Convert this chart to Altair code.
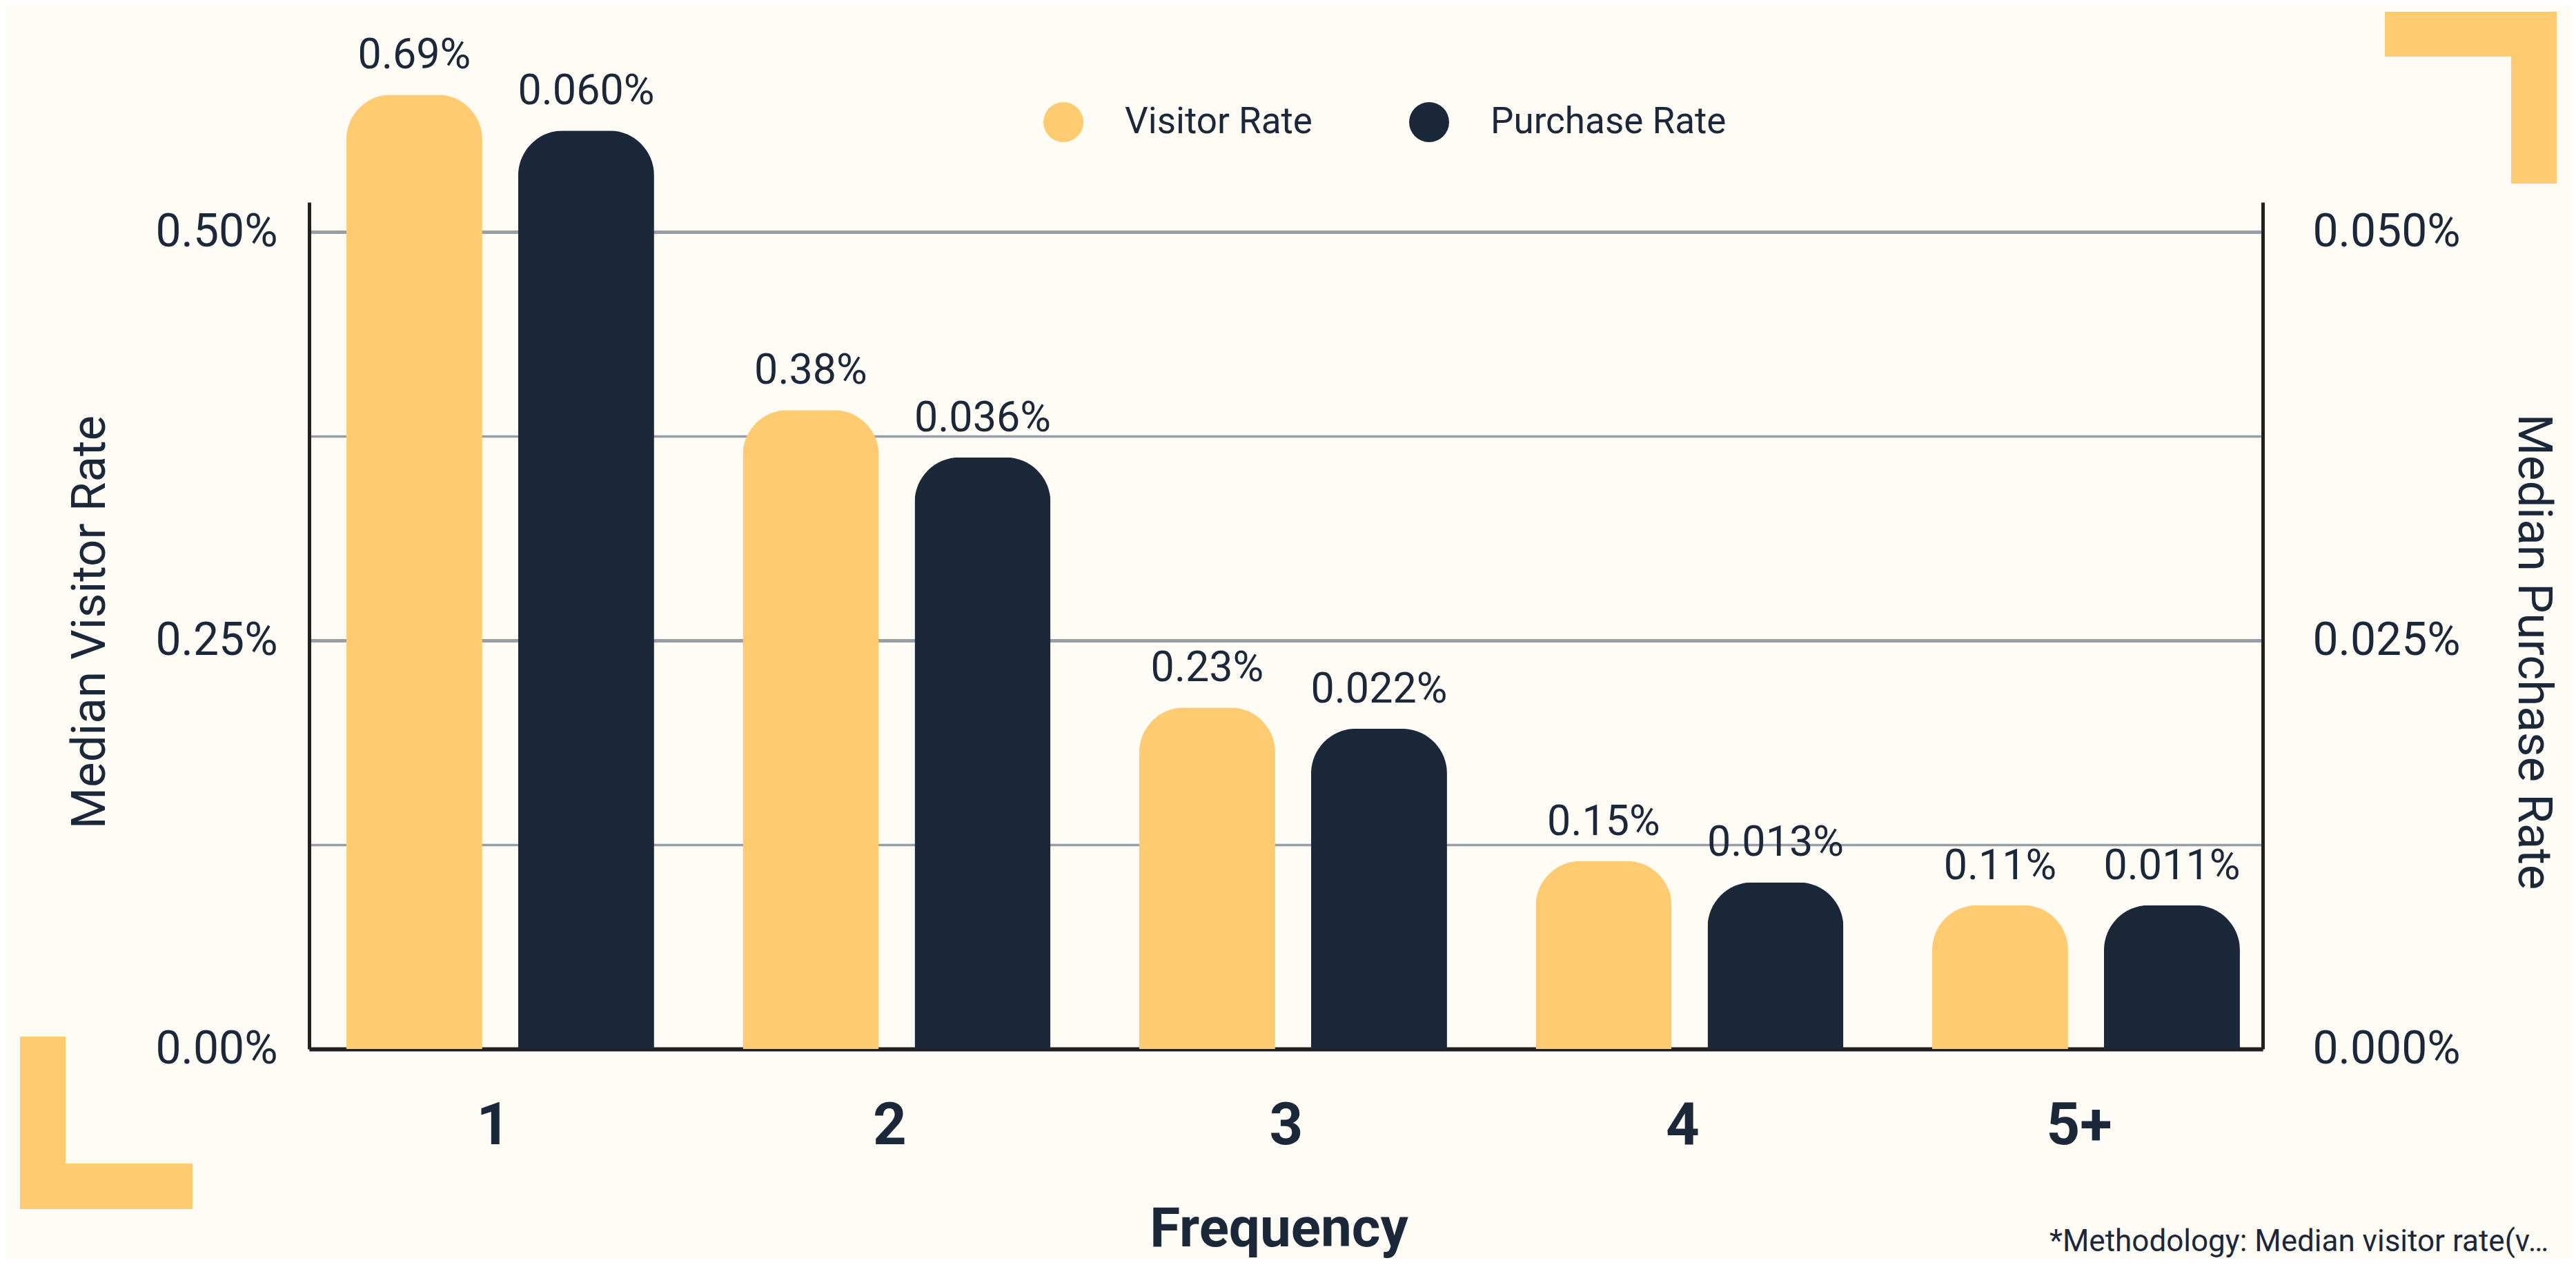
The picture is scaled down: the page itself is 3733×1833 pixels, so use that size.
import altair as alt
import pandas as pd

# ---- data ----
freq = ["1", "2", "3", "4", "5+"]
series_order = ["Visitor Rate", "Purchase Rate"]
# bar heights as read against the axes (left axis in %, right axis in %)
visitor_height = [0.584, 0.391, 0.209, 0.115, 0.088]
purchase_height = [0.0562, 0.0362, 0.0196, 0.0102, 0.0088]
# printed value labels
visitor_label = ["0.69%", "0.38%", "0.23%", "0.15%", "0.11%"]
purchase_label = ["0.060%", "0.036%", "0.022%", "0.013%", "0.011%"]
left_ticks = [0, 0.125, 0.25, 0.375, 0.5]
right_ticks = [0, 0.025, 0.05]
note_text = "*Methodology: Median visitor rate(visitors / sessions)"

YELLOW = "#FECB70"
NAVY = "#1B283A"
BG = "#FFFBF5"
FONT = "Roboto"

rows = []
for f, v, lab in zip(freq, visitor_height, visitor_label):
    rows.append({"freq": f, "series": "Visitor Rate", "value": v, "label": lab})
for f, v, lab in zip(freq, purchase_height, purchase_label):
    rows.append({"freq": f, "series": "Purchase Rate", "value": v, "label": lab})
df = pd.DataFrame(rows)

W, H = 2831, 1227

x_enc = alt.X(
    "freq:N",
    sort=freq,
    scale=alt.Scale(paddingInner=0.2237, paddingOuter=0.0757, align=0.62),
    axis=alt.Axis(
        title="Frequency",
        titleFont=FONT,
        titleFontSize=80,
        titleFontWeight="bold",
        titleColor=NAVY,
        titleX=1405,
        titleY=285,
        titleBaseline="alphabetic",
        titleAlign="center",
        labelFont=FONT,
        labelFontSize=85,
        labelFontWeight="bold",
        labelColor=NAVY,
        labelAngle=0,
        labelBaseline="alphabetic",
        labelPadding=137,
        labelOffset=-10,
        ticks=False,
        tickSize=0,
        domainColor="#231F20",
        domainWidth=6,
        grid=False,
    ),
)
xoff_enc = alt.XOffset(
    "series:N",
    sort=series_order,
    scale=alt.Scale(domain=series_order, paddingInner=0.209, paddingOuter=0),
)
color_enc = alt.Color(
    "series:N",
    sort=series_order,
    scale=alt.Scale(domain=series_order, range=[YELLOW, NAVY]),
    legend=alt.Legend(
        orient="none",
        legendX=1064,
        legendY=-145,
        direction="horizontal",
        title=None,
        symbolType="circle",
        symbolSize=3364,
        symbolStrokeWidth=0,
        symbolOpacity=1,
        labelFont=FONT,
        labelFontSize=53,
        labelColor=NAVY,
        labelOffset=60,
        labelLimit=1000,
        columnPadding=140,
        padding=0,
    ),
)

left_scale = alt.Scale(domain=[0, 0.5182], nice=False, zero=True)
right_scale = alt.Scale(domain=[0, 0.05182], nice=False, zero=True)

left_axis = alt.Axis(
    orient="left",
    values=left_ticks,
    labelExpr="datum.value % 0.25 === 0 ? format(datum.value, '.2f') + '%' : ''",
    labelFont=FONT,
    labelFontSize=66,
    labelColor=NAVY,
    labelPadding=46,
    labelLimit=500,
    ticks=False,
    tickSize=0,
    domainColor="#231F20",
    domainWidth=5,
    grid=True,
    gridColor="#989EA7",
    gridWidth={"condition": {"test": "datum.value % 0.25 === 0", "value": 5}, "value": 3.5},
    title="Median Visitor Rate",
    titleFont=FONT,
    titleFontSize=69,
    titleFontWeight="normal",
    titleColor=NAVY,
    titleAngle=-90,
    titleX=-318,
    titleY=608,
    titleAlign="center",
    titleBaseline="middle",
    titleLimit=2000,
)
right_axis = alt.Axis(
    orient="right",
    values=right_ticks,
    labelExpr="format(datum.value, '.3f') + '%'",
    labelFont=FONT,
    labelFontSize=66,
    labelColor=NAVY,
    labelPadding=72,
    labelLimit=500,
    ticks=False,
    tickSize=0,
    domainColor="#231F20",
    domainWidth=5,
    grid=False,
    title="Median Purchase Rate",
    titleFont=FONT,
    titleFontSize=69,
    titleFontWeight="normal",
    titleColor=NAVY,
    titleAngle=90,
    titleX=391,
    titleY=651,
    titleAlign="center",
    titleBaseline="middle",
    titleLimit=2000,
)

base = alt.Chart(df)

visitor_bars = base.transform_filter(alt.datum.series == "Visitor Rate").mark_bar(
    cornerRadiusTopLeft=65, cornerRadiusTopRight=65
).encode(
    x=x_enc,
    xOffset=xoff_enc,
    y=alt.Y("value:Q", scale=left_scale, axis=left_axis),
    color=color_enc,
)
purchase_bars = base.transform_filter(alt.datum.series == "Purchase Rate").mark_bar(
    cornerRadiusTopLeft=65, cornerRadiusTopRight=65
).encode(
    x=x_enc,
    xOffset=xoff_enc,
    y=alt.Y("value:Q", scale=right_scale, axis=right_axis),
    color=color_enc,
)
visitor_text = base.transform_filter(alt.datum.series == "Visitor Rate").mark_text(
    dy=-38, baseline="alphabetic", align="center", font=FONT, fontSize=61, color=NAVY
).encode(
    x=x_enc,
    xOffset=xoff_enc,
    y=alt.Y("value:Q", scale=left_scale, axis=None),
    text="label:N",
)
purchase_text = base.transform_filter(alt.datum.series == "Purchase Rate").mark_text(
    dy=-38, baseline="alphabetic", align="center", font=FONT, fontSize=61, color=NAVY
).encode(
    x=x_enc,
    xOffset=xoff_enc,
    y=alt.Y("value:Q", scale=right_scale, axis=None),
    text="label:N",
)

# decorative corner brackets
one = pd.DataFrame({"k": [0]})
def deco(x1, x2, y1, y2):
    return alt.Chart(one).mark_rect(color=YELLOW).encode(
        x=alt.value(x1), x2=alt.value(x2), y=alt.value(y1), y2=alt.value(y2)
    )

decos = [
    deco(3008, 3257, -276, -211),
    deco(3191, 3257, -276, -27),
    deco(-419, -353, 1209, 1459),
    deco(-419, -169, 1393, 1459),
]

note = alt.Chart(one).mark_text(
    align="left", baseline="alphabetic", font=FONT, fontSize=44, color=NAVY,
    limit=730
).encode(x=alt.value(2522), y=alt.value(1520), text=alt.value(note_text))

chart = alt.layer(
    visitor_bars, purchase_bars, visitor_text, purchase_text, *decos, note
).resolve_scale(y="independent").properties(
    width=W,
    height=H,
    padding={"left": 440, "top": 285, "right": 446, "bottom": 305},
    autosize=alt.AutoSizeParams(type="none"),
    background=BG,
).configure_view(strokeWidth=0)

chart.save("out.html", embed_options={"renderer": "svg", "actions": False})
